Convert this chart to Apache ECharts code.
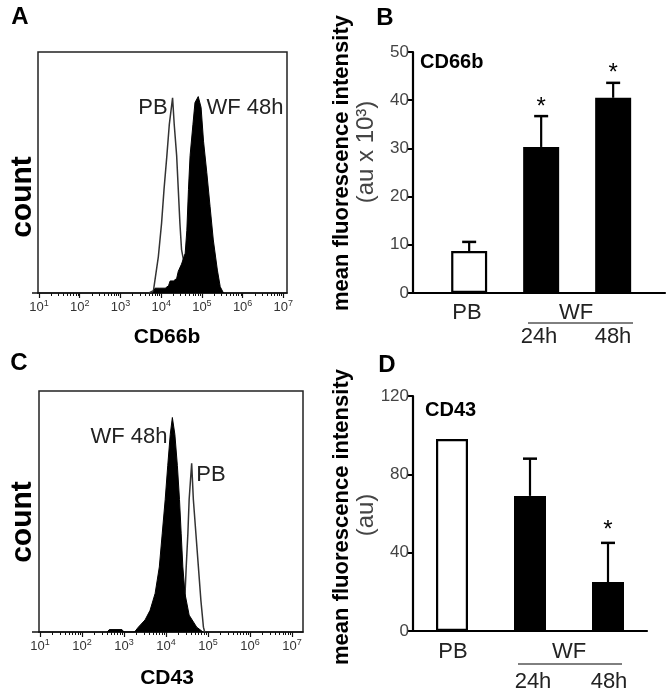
<!DOCTYPE html>
<html>
<head>
<meta charset="utf-8">
<script src="https://cdn.jsdelivr.net/npm/echarts@6/dist/echarts.min.js"></script>
<style>
html,body{margin:0;padding:0;background:#fff;}
#chart{width:672px;height:696px;}
</style>
</head>
<body>
<div id="chart"></div>
<script>
// ---------- data ----------
// Panel A (CD66b histogram), x = log10 fluorescence, y = relative count (box height = 100)
const histAPbLog   = [3.70, 3.81, 3.93, 4.01, 4.07, 4.14, 4.20, 4.28, 4.32, 4.38, 4.42, 4.46, 4.50, 4.59, 4.71, 4.91, 5.00];
const histAPbCount = [0,    1,    15,   29,   43,   57,   70,   81,   70,   57,   43,   29,   18,   10,   5,    1,    0];
const histAWfLog   = [3.80, 3.85, 3.95, 4.10, 4.18, 4.22, 4.30, 4.38, 4.42, 4.50, 4.59, 4.63, 4.67, 4.71, 4.78, 4.83, 4.91, 4.98, 5.04, 5.12, 5.20, 5.28, 5.38, 5.45, 5.53];
const histAWfCount = [0,    2,    2,    2,    3,    5,    5,    6,    9,    12,   16.5, 26,   43,   57,   70,   79,   81.5, 77,   63,   50,   36,   22,   9.5,  2.6,  0];
// Panel C (CD43 histogram)
const histCWfLog   = [2.60, 2.65, 2.95, 3.00, 3.25, 3.34, 3.50, 3.62, 3.74, 3.84, 3.91, 3.98, 4.04, 4.10, 4.15, 4.21, 4.27, 4.32, 4.36, 4.40, 4.45, 4.55, 4.73, 4.88];
const histCWfCount = [0,    1,    1,    0,    0,    2,    5,    9,    16,   27,   41,   55,   69,   82,   89,   82,   69,   55,   41,   27,   16,   7,    2,    0];
const histCPbLog   = [4.25, 4.35, 4.45, 4.48, 4.52, 4.55, 4.61, 4.65, 4.71, 4.77, 4.83, 4.89, 4.92];
const histCPbCount = [0,    5,    15,   27,   41,   55,   70,   55,   41,   27,   13,   2,    0];
const logDecades = [1, 2, 3, 4, 5, 6, 7];

// Panel B (CD66b MFI, au x 10^3)
const groups      = ['PB', 'WF 24h', 'WF 48h'];
const cd66bMean   = [8.7, 30.3, 40.5];
const cd66bUpper  = [10.6, 36.7, 43.6];
const cd66bSig    = [false, true, true];
// Panel D (CD43 MFI, au)
const cd43Mean    = [98, 69, 25];
const cd43Upper   = [98, 88, 45];
const cd43Sig     = [false, false, true];

// ---------- helpers ----------
const FONT = "'Liberation Sans', Arial, sans-serif";
const zip = (a, b) => a.map((v, i) => [v, b[i]]);
const minorTicks = [];
for (let d = 0; d <= 7; d++) for (let k = 2; k <= 9; k++) minorTicks.push(d + Math.log10(k));

function logAxisPair(gridIndex, min, max) {
  const major = {
    type: 'value', gridIndex, min, max, position: 'bottom',
    axisLine: {show: true, onZero: false, lineStyle: {color: '#111', width: 1.5}},
    axisTick: {show: true, length: 5, lineStyle: {color: '#111', width: 1.2}, customValues: logDecades},
    axisLabel: {
      show: true, margin: 6, customValues: logDecades, color: '#333', fontFamily: FONT,
      formatter: v => '{b|10}{s|' + Math.round(v) + '}',
      rich: {b: {fontSize: 13, lineHeight: 16, fontFamily: FONT, color: '#333'},
             s: {fontSize: 9, lineHeight: 9, verticalAlign: 'top', fontFamily: FONT, color: '#333'}}
    },
    splitLine: {show: false}
  };
  const minor = {
    type: 'value', gridIndex, min, max, position: 'bottom',
    axisLine: {show: false, onZero: false},
    axisTick: {show: true, length: 3, lineStyle: {color: '#111', width: 1}, customValues: minorTicks.filter(t => t > min && t < max)},
    axisLabel: {show: false}, splitLine: {show: false}
  };
  return [major, minor];
}
function barXAxis(gridIndex, min, max) {
  return {type: 'value', gridIndex, min, max, position: 'bottom',
    axisLine: {show: true, onZero: false, lineStyle: {color: '#000', width: 2.2}},
    axisTick: {show: false}, axisLabel: {show: false}, splitLine: {show: false}};
}
function barYAxis(gridIndex, max, interval) {
  return {type: 'value', gridIndex, min: 0, max, interval, position: 'left',
    axisLine: {show: true, onZero: false, lineStyle: {color: '#000', width: 2.2}},
    axisTick: {show: true, length: 5, lineStyle: {color: '#000', width: 2}},
    axisLabel: {show: true, fontSize: 17, color: '#444', fontFamily: FONT, margin: 4},
    splitLine: {show: false}};
}
function histYAxis(gridIndex) {
  return {type: 'value', gridIndex, min: 0, max: 100, show: false, axisLine: {onZero: false}};
}
function barSeries(xIdx, yIdx, means, width) {
  return {type: 'bar', xAxisIndex: xIdx, yAxisIndex: yIdx, barWidth: width,
    data: means.map((m, i) => ({value: [i, m], itemStyle: {
      color: i === 0 ? '#fff' : '#000', borderColor: '#000', borderWidth: 2.2}})),
    z: 2};
}
function errSeries(xIdx, yIdx, means, uppers, sig, starGap) {
  return {type: 'custom', xAxisIndex: xIdx, yAxisIndex: yIdx, z: 3,
    data: means.map((m, i) => [i, m]),
    renderItem: (params, api) => {
      const i = params.dataIndex;
      const m = means[i], u = uppers[i];
      const p0 = api.coord([i, m]), p1 = api.coord([i, u]);
      const ch = [];
      if (u > m) {
        ch.push({type: 'line', shape: {x1: p0[0], y1: p0[1], x2: p1[0], y2: p1[1]}, style: {stroke: '#000', lineWidth: 2.2}});
        ch.push({type: 'line', shape: {x1: p1[0] - 7, y1: p1[1], x2: p1[0] + 7, y2: p1[1]}, style: {stroke: '#000', lineWidth: 2.5}});
      }
      if (sig[i]) {
        ch.push({type: 'text', x: p1[0], y: p1[1] - starGap, style: {text: '*', fontSize: 24, fontFamily: FONT, fill: '#000', align: 'center', verticalAlign: 'middle'}});
      }
      return {type: 'group', children: ch};
    }};
}
function txt(text, x, y, opts) {
  return Object.assign({type: 'text', x, y, silent: true,
    style: Object.assign({text, fill: '#111', fontFamily: FONT, fontSize: 20, align: 'center', verticalAlign: 'middle'}, opts.style || {})},
    opts.rotation ? {rotation: opts.rotation} : {});
}

// ---------- option ----------
const [axA, axAm] = logAxisPair(0, 0.975, 7.09);
const [axC, axCm] = logAxisPair(2, 0.976, 7.26);
const R = Math.PI / 2;
const LBL = {fontSize: 22, fill: '#222'};
const option = {
  animation: false,
  backgroundColor: '#fff',
  grid: [
    {left: 38, top: 52, width: 249, height: 241, show: true, borderColor: '#222', borderWidth: 1.5, backgroundColor: 'transparent'},
    {left: 413, top: 52, width: 252, height: 241},
    {left: 39, top: 391, width: 264, height: 241, show: true, borderColor: '#222', borderWidth: 1.5, backgroundColor: 'transparent'},
    {left: 413, top: 396, width: 234, height: 235}
  ],
  xAxis: [axA, axAm, axC, axCm, barXAxis(1, -0.78, 2.72), barXAxis(3, -0.5, 2.5)],
  yAxis: [histYAxis(0), barYAxis(1, 50, 10), histYAxis(2), barYAxis(3, 120, 40)],
  series: [
    {type: 'line', xAxisIndex: 0, yAxisIndex: 0, data: zip(histAPbLog, histAPbCount), showSymbol: false, symbol: 'none',
     lineStyle: {color: '#333', width: 1.5}, z: 2},
    {type: 'line', xAxisIndex: 0, yAxisIndex: 0, data: zip(histAWfLog, histAWfCount), showSymbol: false, symbol: 'none',
     lineStyle: {color: '#000', width: 1}, areaStyle: {color: '#000', opacity: 1}, z: 3},
    {type: 'line', xAxisIndex: 2, yAxisIndex: 2, data: zip(histCPbLog, histCPbCount), showSymbol: false, symbol: 'none',
     lineStyle: {color: '#333', width: 1.5}, z: 2},
    {type: 'line', xAxisIndex: 2, yAxisIndex: 2, data: zip(histCWfLog, histCWfCount), showSymbol: false, symbol: 'none',
     lineStyle: {color: '#000', width: 1}, areaStyle: {color: '#000', opacity: 1}, z: 3},
    barSeries(4, 1, cd66bMean, 36),
    errSeries(4, 1, cd66bMean, cd66bUpper, cd66bSig, 9),
    barSeries(5, 3, cd43Mean, 32),
    errSeries(5, 3, cd43Mean, cd43Upper, cd43Sig, 13)
  ],
  graphic: [
    {type: 'line', shape: {x1: 32, y1: 293, x2: 38, y2: 293}, style: {stroke: '#111', lineWidth: 1.5}},
    {type: 'line', shape: {x1: 32, y1: 632, x2: 39, y2: 632}, style: {stroke: '#111', lineWidth: 1.5}},
    txt('A', 20, 17, {style: {fontSize: 24, fontWeight: 'bold', fill: '#000'}}),
    txt('B', 385, 18, {style: {fontSize: 24, fontWeight: 'bold', fill: '#000'}}),
    txt('C', 19, 363, {style: {fontSize: 24, fontWeight: 'bold', fill: '#000'}}),
    txt('D', 387, 365, {style: {fontSize: 24, fontWeight: 'bold', fill: '#000'}}),
    txt('PB', 153, 108, {style: LBL}),
    txt('WF 48h', 245, 108, {style: LBL}),
    txt('WF 48h', 129, 437, {style: LBL}),
    txt('PB', 211, 475, {style: LBL}),
    txt('count', 23, 197, {rotation: R, style: {fontSize: 30, fontWeight: 'bold', fill: '#000'}}),
    txt('count', 23, 522, {rotation: R, style: {fontSize: 30, fontWeight: 'bold', fill: '#000'}}),
    txt('CD66b', 167, 337, {style: {fontSize: 21, fontWeight: 'bold', fill: '#000'}}),
    txt('CD43', 167, 678, {style: {fontSize: 21, fontWeight: 'bold', fill: '#000'}}),
    txt('mean fluorescence intensity', 342, 163, {rotation: R, style: {fontSize: 22, fontWeight: 'bold', fill: '#000'}}),
    txt('(au x 10³)', 366, 152, {rotation: R, style: {fontSize: 24, fill: '#444'}}),
    txt('mean fluorescence intensity', 342, 517, {rotation: R, style: {fontSize: 22, fontWeight: 'bold', fill: '#000'}}),
    txt('(au)', 366, 515, {rotation: R, style: {fontSize: 24, fill: '#444'}}),
    txt('CD66b', 420, 62, {style: {fontSize: 20, fontWeight: 'bold', fill: '#000', align: 'left'}}),
    txt('CD43', 425, 410, {style: {fontSize: 20, fontWeight: 'bold', fill: '#000', align: 'left'}}),
    txt('PB', 467, 313, {style: LBL}),
    txt('WF', 576, 313, {style: LBL}),
    {type: 'line', shape: {x1: 528, y1: 323, x2: 633, y2: 323}, style: {stroke: '#000', lineWidth: 1}},
    txt('24h', 539, 337, {style: LBL}),
    txt('48h', 613, 337, {style: LBL}),
    txt('PB', 453, 652, {style: LBL}),
    txt('WF', 569, 652, {style: LBL}),
    {type: 'line', shape: {x1: 518, y1: 664, x2: 622, y2: 664}, style: {stroke: '#000', lineWidth: 1}},
    txt('24h', 533, 682, {style: LBL}),
    txt('48h', 609, 682, {style: LBL})
  ]
};
const chart = echarts.init(document.getElementById('chart'), null, {renderer: 'canvas'});
chart.setOption(option);
</script>
</body>
</html>
